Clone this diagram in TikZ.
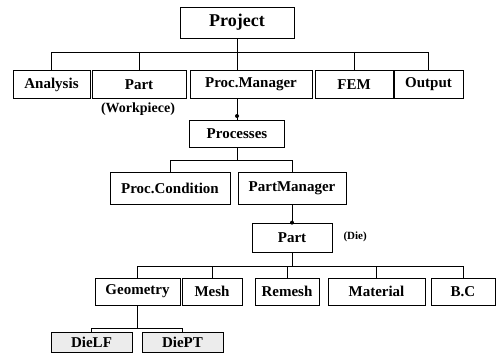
\documentclass[tikz,border=0pt]{standalone}
\usepackage{fontspec}
\setmainfont{Liberation Serif}
\begin{document}
\begin{tikzpicture}[x=1pt,y=-1pt,
  box/.style={draw, line width=0.7pt, inner sep=0pt, minimum height=28pt, font=\fontsize{15}{18}\selectfont\bfseries},
  shade/.style={box, fill=gray!15, minimum height=20pt},
  conn/.style={line width=0.7pt},
  jdot/.style={circle, fill=black, inner sep=0pt, minimum size=4pt}]
\useasboundingbox (0,0) rectangle (501,353);
% top
\node[box, minimum width=114pt, minimum height=31pt, font=\fontsize{18}{21}\selectfont\bfseries] (project) at (237,22.5) {Project};
\node[box, minimum width=77pt] (an) at (51.5,84.5) {Analysis};
\node[box, minimum width=94pt] (part1) at (139,84.5) {Part};
\node[font=\fontsize{14}{16}\selectfont\bfseries] (wp) at (138,109) {(Workpiece)};
\node[box, minimum width=122pt] (pm) at (251,84.5) {Proc.Manager};
\node[box, minimum width=78pt] (fem) at (354,84.5) {FEM};
\node[box, minimum width=69pt] (out) at (428.5,84.5) {Output};
\coordinate (b1) at (0,52);
\draw[conn] (project.south) -- (project.south |- pm.north);
\draw[conn] (an.north) -- (an.north |- b1) -- (out.north |- b1) -- (out.north);
\draw[conn] (part1.north |- b1) -- (part1.north);
\draw[conn] (fem.north |- b1) -- (fem.north);
% processes
\node[box, minimum width=95pt, minimum height=27pt] (proc) at (237,134) {Processes};
\draw[conn] (pm.south -| proc.north) -- (proc.north);
\node[jdot] (d1) at (237,116) {};
\node[box, minimum width=120pt, minimum height=32pt] (pc) at (170,188) {Proc.Condition};
\node[box, minimum width=108pt, minimum height=32pt] (pmg) at (292,188) {PartManager};
\coordinate (b2) at (0,160);
\draw[conn] (proc.south) -- (proc.south |- b2);
\draw[conn] (pc.north) -- (pc.north |- b2) -- (pmg.north |- b2) -- (pmg.north);
% part (die)
\node[box, minimum width=80pt, minimum height=29pt] (part2) at (292,237.5) {Part};
\node[font=\fontsize{11}{13}\selectfont\bfseries, anchor=west] (die) at (340,237) {(Die)};
\draw[conn] (pmg.south) -- (part2.north);
\node[jdot] (d2) at (part2.north) {};
% bottom row
\node[box, minimum width=85pt, minimum height=27pt] (geo) at (137.5,291.5) {Geometry};
\node[box, minimum width=60pt, minimum height=27pt] (mesh) at (212,291.5) {Mesh};
\node[box, minimum width=64pt, minimum height=27pt] (rem) at (287,291.5) {Remesh};
\node[box, minimum width=97pt, minimum height=27pt] (mat) at (376.5,291.5) {Material};
\node[box, minimum width=64pt, minimum height=27pt] (bc) at (463,291.5) {B.C};
\coordinate (b3) at (0,266);
\draw[conn] (part2.south) -- (part2.south |- b3);
\draw[conn] (geo.north) -- (geo.north |- b3) -- (bc.north |- b3) -- (bc.north);
\draw[conn] (mesh.north |- b3) -- (mesh.north);
\draw[conn] (rem.north |- b3) -- (rem.north);
\draw[conn] (mat.north |- b3) -- (mat.north);
% die LF / PT
\node[shade, minimum width=81pt] (lf) at (91.5,342) {DieLF};
\node[shade, minimum width=81pt] (pt) at (182.5,342) {DiePT};
\coordinate (b4) at (0,328);
\draw[conn] (geo.south) -- (geo.south |- b4);
\draw[conn] (lf.north) -- (lf.north |- b4) -- (pt.north |- b4) -- (pt.north);
\end{tikzpicture}
\end{document}
